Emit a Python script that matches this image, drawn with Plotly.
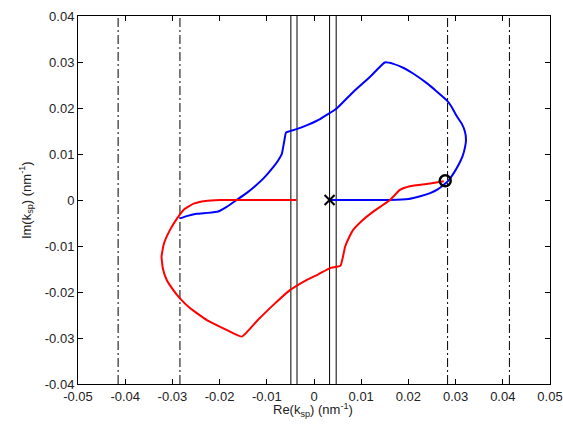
import plotly.graph_objects as go

# Blue branch (Re, Im) in nm^-1
blue_re = [0.0035, 0.0100, 0.0160, 0.0200, 0.0225, 0.0246, 0.0262, 0.0275, 0.0287, 0.0297,
           0.0306, 0.0315, 0.0320, 0.0322, 0.0320, 0.0313, 0.0302, 0.0290, 0.0281, 0.0260,
           0.0239, 0.0210, 0.0190, 0.0168, 0.0150, 0.0119, 0.0083, 0.0048, 0.0013, -0.0012,
           -0.0037, -0.0059, -0.0063, -0.0068, -0.0076, -0.0086, -0.0107, -0.0125, -0.0143,
           -0.0164, -0.0185, -0.0203, -0.0225, -0.0249, -0.0270, -0.0284]
blue_im = [0.0000, 0.0000, 0.0000, 0.0002, 0.0008, 0.0015, 0.0023, 0.0033, 0.0045, 0.0060,
           0.0076, 0.0096, 0.0115, 0.0130, 0.0148, 0.0166, 0.0183, 0.0205, 0.0217, 0.0236,
           0.0254, 0.0275, 0.0287, 0.0296, 0.0299, 0.0268, 0.0235, 0.0199, 0.0176, 0.0164,
           0.0154, 0.0147, 0.0128, 0.0101, 0.0086, 0.0072, 0.0047, 0.0030, 0.0015,
           0.0000, -0.0015, -0.0025, -0.0028, -0.0030, -0.0035, -0.0040]

# Red branch
red_re = [-0.0037, -0.0120, -0.0199, -0.0230, -0.0255, -0.0275, -0.0290, -0.0305, -0.0318,
          -0.0323, -0.0320, -0.0312, -0.0298, -0.0284, -0.0263, -0.0227, -0.0192, -0.0153,
          -0.0120, -0.0086, -0.0051, -0.0016, 0.0010, 0.0034, 0.0056, 0.0061, 0.0066, 0.0074,
          0.0083, 0.0104, 0.0122, 0.0140, 0.0161, 0.0182, 0.0203, 0.0246, 0.0275]
red_im = [0.0000, 0.0000, 0.0000, -0.0002, -0.0008, -0.0020, -0.0040, -0.0065, -0.0095,
          -0.0123, -0.0150, -0.0174, -0.0196, -0.0214, -0.0235, -0.0261, -0.0279, -0.0297,
          -0.0262, -0.0228, -0.0196, -0.0174, -0.0161, -0.0148, -0.0143, -0.0125, -0.0101, -0.0082,
          -0.0065, -0.0043, -0.0028, -0.0015, 0.0000, 0.0022, 0.0030, 0.0036, 0.0041]

# Reference vertical lines
solid_lines = [-0.0049, -0.0036, 0.0033, 0.0047]
dashdot_lines = [-0.0415, -0.0284, 0.0283, 0.0414]
line_ylim = [-0.04, 0.04]

# Markers
cross_pt = (0.0033, 0.0000)
circle_pt = (0.0278, 0.0042)

# Ticks
x_ticks = [-0.05, -0.04, -0.03, -0.02, -0.01, 0, 0.01, 0.02, 0.03, 0.04, 0.05]
x_ticklabels = ["-0.05", "-0.04", "-0.03", "-0.02", "-0.01", "0", "0.01", "0.02", "0.03", "0.04", "0.05"]
y_ticks = [-0.04, -0.03, -0.02, -0.01, 0, 0.01, 0.02, 0.03, 0.04]
y_ticklabels = ["-0.04", "-0.03", "-0.02", "-0.01", "0", "0.01", "0.02", "0.03", "0.04"]

x_title = "Re(k<sub>sp</sub>) (nm<sup>-1</sup>)"
y_title = "Im(k<sub>sp</sub>) (nm<sup>-1</sup>)"

fig = go.Figure()

for xv in solid_lines:
    fig.add_trace(go.Scatter(x=[xv, xv], y=line_ylim, mode="lines",
                             line=dict(color="black", width=1), showlegend=False, hoverinfo="skip"))
for xv in dashdot_lines:
    fig.add_trace(go.Scatter(x=[xv, xv], y=line_ylim, mode="lines",
                             line=dict(color="black", width=1, dash="9px,3px,2px,3px"),
                             showlegend=False, hoverinfo="skip"))

fig.add_trace(go.Scatter(x=blue_re, y=blue_im, mode="lines", line_shape="spline",
                         line=dict(color="#0000ff", width=2, smoothing=0.4), showlegend=False))
fig.add_trace(go.Scatter(x=red_re, y=red_im, mode="lines", line_shape="spline",
                         line=dict(color="#ff0000", width=2, smoothing=0.4), showlegend=False))

fig.add_trace(go.Scatter(x=[cross_pt[0]], y=[cross_pt[1]], mode="markers",
                         marker=dict(symbol="x-thin", size=10, line=dict(color="black", width=2)),
                         showlegend=False))
fig.add_trace(go.Scatter(x=[circle_pt[0]], y=[circle_pt[1]], mode="markers",
                         marker=dict(symbol="circle-open", size=11, color="black",
                                     line=dict(color="black", width=2.5)),
                         showlegend=False))

font_family = "Arial, Liberation Sans, sans-serif"
title_font = dict(family=font_family, size=13, color="#222")
axis_common = dict(showgrid=False, zeroline=False, showline=True, linecolor="black", linewidth=1,
                   mirror="ticks", ticks="inside", ticklen=5, tickcolor="black", automargin=False,
                   tickfont=dict(family=font_family, size=13, color="#222"))

fig.update_xaxes(range=[-0.05, 0.05], tickvals=x_ticks, ticktext=x_ticklabels, **axis_common)
fig.update_yaxes(range=[-0.04, 0.04], tickvals=y_ticks, ticktext=y_ticklabels, **axis_common)

fig.add_annotation(text=x_title, xref="paper", yref="paper", x=0.497, y=-0.071,
                   xanchor="center", yanchor="middle", showarrow=False, font=title_font)
fig.add_annotation(text=y_title, xref="paper", yref="paper", x=-0.110, y=0.5,
                   xanchor="center", yanchor="middle", textangle=-90, showarrow=False, font=title_font)

fig.update_layout(width=563, height=430, margin=dict(l=78, r=13, t=16, b=46),
                  paper_bgcolor="white", plot_bgcolor="white", showlegend=False)

fig.write_html("out.html", config={"displayModeBar": False},
               post_script="document.body.style.margin='0';document.body.style.overflow='hidden';")
